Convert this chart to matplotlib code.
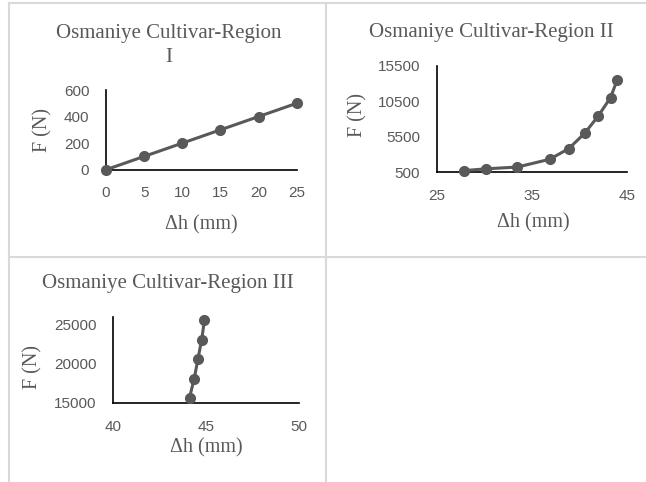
import matplotlib
matplotlib.use("Agg")
import matplotlib.pyplot as plt
from matplotlib.lines import Line2D

# values
reg1_dh = [0, 5, 10, 15, 20, 25]
reg1_f = [0, 100, 200, 300, 400, 500]

reg2_dh = [27.9, 30.2, 33.5, 36.9, 38.9, 40.6, 42.0, 43.3, 44.0]
reg2_f = [700, 950, 1200, 2300, 3800, 6000, 8400, 11000, 13500]

reg3_dh = [44.1, 44.35, 44.55, 44.75, 44.9]
reg3_f = [15700, 18100, 20600, 23050, 25550]

titles = ["Osmaniye Cultivar-Region\nI", "Osmaniye Cultivar-Region II",
          "Osmaniye Cultivar-Region III"]

W, H = 646, 482
GRAY = "#595959"
GRID = "#d9d9d9"
SERIF = "Liberation Serif"
SANS = "Liberation Sans"


def px_axes(fig, left, right, top, bottom):
    # rectangle given in pixels from top-left corner
    return fig.add_axes([left / W, 1 - bottom / H, (right - left) / W, (bottom - top) / H])


def style(ax, title, title_xy, xlab_xy, ylab_xy):
    for s in ["top", "right"]:
        ax.spines[s].set_visible(False)
    for s in ["left", "bottom"]:
        ax.spines[s].set_color("black")
        ax.spines[s].set_linewidth(1.2)
    ax.tick_params(length=0, pad=12, labelcolor=GRAY, labelsize=11)
    for lab in ax.get_xticklabels() + ax.get_yticklabels():
        lab.set_fontfamily(SANS)
    ax.text(title_xy[0], title_xy[1], title, transform=ax.transAxes, ha="center",
            va="center", fontsize=15, family=SERIF, color=GRAY, linespacing=1.4)
    ax.set_xlabel("Δh (mm)", fontsize=14.5, family=SERIF, color=GRAY)
    ax.set_ylabel("F (N)", fontsize=14.5, family=SERIF, color=GRAY)
    ax.xaxis.set_label_coords(*xlab_xy)
    ax.yaxis.set_label_coords(*ylab_xy)
    ax.xaxis.label.set_va("center")
    ax.yaxis.label.set_va("center")


def draw(ax, x, y):
    ax.plot(x, y, color=GRAY, lw=2.2, marker="o", ms=7, mfc=GRAY, mec=GRAY,
            clip_on=False, zorder=3)


fig = plt.figure(figsize=(W / 100, H / 100), dpi=100)

# table grid behind the charts
for x0, y0, x1, y1 in [(9, 3, W, 3), (9, 257, W, 257), (9, 3, 9, H), (326, 3, 326, H)]:
    fig.add_artist(Line2D([x0 / W, x1 / W], [1 - y0 / H, 1 - y1 / H],
                          color=GRID, lw=1.5, transform=fig.transFigure))

ax1 = px_axes(fig, 106, 296.7, 90, 169.7)
draw(ax1, reg1_dh, reg1_f)
ax1.set_xlim(0, 25)
ax1.set_ylim(0, 600)
ax1.set_xticks([0, 5, 10, 15, 20, 25])
ax1.set_yticks([0, 200, 400, 600])
style(ax1, titles[0], (0.33, 1.56), (0.498, -0.694), (-0.33, 0.498))

ax2 = px_axes(fig, 436.7, 626.7, 65.7, 172)
draw(ax2, reg2_dh, reg2_f)
ax2.set_xlim(25, 45)
ax2.set_ylim(500, 15500)
ax2.set_xticks([25, 35, 45])
ax2.set_yticks([500, 5500, 10500, 15500])
style(ax2, titles[1], (0.286, 1.317), (0.507, -0.48), (-0.414, 0.536))

ax3 = px_axes(fig, 113.3, 299.3, 316.7, 403)
draw(ax3, reg3_dh, reg3_f)
ax3.set_xlim(40, 50)
ax3.set_ylim(15000, 26000)
ax3.set_xticks([40, 45, 50])
ax3.set_yticks([15000, 20000, 25000])
style(ax3, titles[2], (0.294, 1.39), (0.498, -0.521), (-0.432, 0.417))

fig.savefig("out.png", dpi=100)
